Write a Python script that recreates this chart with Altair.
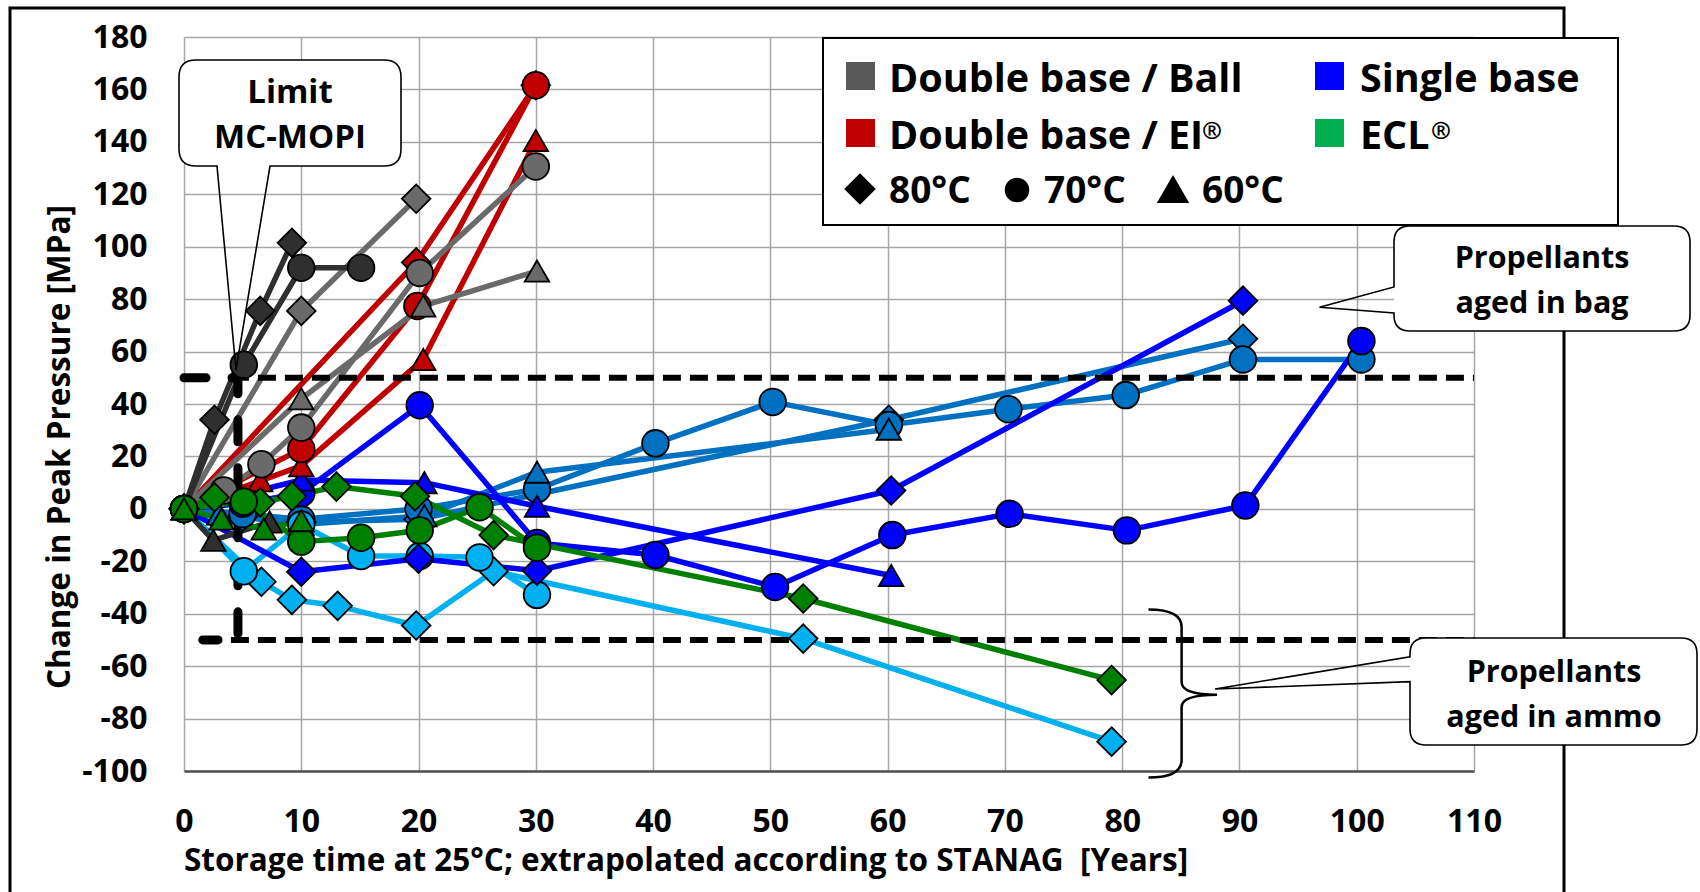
import altair as alt
import pandas as pd

# ---------------- data: storage time [years] / change in peak pressure [MPa] ----------------
# Double base / Ball (dark grey)
ball_dark_80_years = [0, 2.6, 6.5, 9.2]
ball_dark_80_mpa = [0, 34, 75.5, 101.5]
ball_dark_70_years = [0, 5.1, 10, 15.1]
ball_dark_70_mpa = [0, 55, 92, 92]
ball_dark_60_years = [0, 2.5, 7.3]
ball_dark_60_mpa = [0, -12, -5]
# Double base / Ball (grey)
ball_80_years = [0, 10, 19.8]
ball_80_mpa = [0, 75.5, 118.3]
ball_70_years = [0, 3.4, 6.6, 10, 20.1, 30]
ball_70_mpa = [0, 7, 17, 31, 90, 130.6]
ball_60_years = [0, 10, 20.4, 30.1]
ball_60_mpa = [0, 42, 77.4, 90.7]
# Double base / EI (red)
ei_80_years = [0, 19.8, 30]
ei_80_mpa = [0, 94, 161.6]
ei_70_years = [0, 10, 19.9, 30]
ei_70_mpa = [0, 22.8, 77.4, 161.6]
ei_60_years = [0, 6.5, 10, 20.4, 30]
ei_60_mpa = [0, 10.7, 16.4, 57, 140.5]
# Single base (blue)
sb_80_years = [0, 10, 20, 30.1, 60.3, 90.3]
sb_80_mpa = [0, -24, -19, -23.6, 7, 79.4]
sb_70_years = [0, 5, 10, 20.1, 30.1, 40.2, 50.4, 60.4, 70.4, 80.4, 90.5, 100.4]
sb_70_mpa = [0, 2, 6, 39.5, -13, -17.6, -29.8, -10, -1.9, -8.2, 1.3, 64]
sb_60_years = [0, 10, 20.5, 30.1, 60.3]
sb_60_mpa = [0, 11, 10, 1, -25.4]
# Single base (medium blue)
mb_80_years = [0, 5, 10, 20, 60.1, 90.3]
mb_80_mpa = [0, -3, -5, -4, 34, 64.9]
mb_70_years = [0, 5, 10, 20, 30.1, 40.2, 50.2, 60.1, 70.3, 80.3, 90.3, 100.4]
mb_70_mpa = [0, -2, -4, 0, 7.5, 25, 40.8, 32, 38, 43.4, 57, 57]
mb_60_years = [0, 3, 10, 20.5, 30.1, 60.1]
mb_60_mpa = [0, -2, -6, -2.6, 14, 30.4]
# Single base (light blue)
lb_80_years = [0, 6.6, 9.2, 13.1, 19.8, 26.4, 52.8, 79.1]
lb_80_mpa = [0, -27.8, -34.7, -37, -44.5, -23.8, -49.5, -88.8]
lb_70_years = [0, 5.1, 10, 15.1, 20.1, 25.2, 30.1]
lb_70_mpa = [0, -23.8, -6, -18, -18, -18.5, -32.8]
# ECL (green)
ecl_80_years = [0, 2.6, 6.5, 9.2, 13, 19.7, 26.4, 52.8, 79.1]
ecl_80_mpa = [0, 4.4, 2.5, 4.8, 8.5, 4.8, -10, -34.2, -65.3]
ecl_70_years = [0, 5.1, 10, 15.1, 20.1, 25.2, 30.1]
ecl_70_mpa = [0, 2.7, -12.5, -11, -8.2, 0.6, -14.8]
ecl_60_years = [0, 3.2, 6.8, 10]
ecl_60_mpa = [0, -3.9, -7.7, -4.5]

# limit lines
mopi_years = [0, 4.6, 4.6, 1.6]
mopi_mpa = [50, 50, -50, -50]
limit_levels = [50, -50]

x_ticks = list(range(0, 111, 10))
y_ticks = list(range(-100, 181, 20))
temps = ["80°C", "70°C", "60°C"]

DARK = "#2f2f2f"
GREY = "#6a6a6a"
RED = "#c00000"
BLUE = "#0000ff"
MBLUE = "#0070c0"
LBLUE = "#00b0f0"
GREEN = "#008000"

# draw order (later = on top)
series = [
    ("01", "80°C", MBLUE, mb_80_years, mb_80_mpa),
    ("02", "70°C", MBLUE, mb_70_years, mb_70_mpa),
    ("03", "60°C", MBLUE, mb_60_years, mb_60_mpa),
    ("04", "80°C", LBLUE, lb_80_years, lb_80_mpa),
    ("05", "70°C", LBLUE, lb_70_years, lb_70_mpa),
    ("06", "80°C", BLUE, sb_80_years, sb_80_mpa),
    ("07", "70°C", BLUE, sb_70_years, sb_70_mpa),
    ("08", "60°C", BLUE, sb_60_years, sb_60_mpa),
    ("09", "80°C", RED, ei_80_years, ei_80_mpa),
    ("10", "60°C", RED, ei_60_years, ei_60_mpa),
    ("11", "70°C", RED, ei_70_years, ei_70_mpa),
    ("12", "80°C", GREY, ball_80_years, ball_80_mpa),
    ("13", "70°C", GREY, ball_70_years, ball_70_mpa),
    ("14", "60°C", GREY, ball_60_years, ball_60_mpa),
    ("15", "60°C", DARK, ball_dark_60_years, ball_dark_60_mpa),
    ("16", "80°C", DARK, ball_dark_80_years, ball_dark_80_mpa),
    ("17", "70°C", DARK, ball_dark_70_years, ball_dark_70_mpa),
    ("18", "80°C", GREEN, ecl_80_years, ecl_80_mpa),
    ("19", "70°C", GREEN, ecl_70_years, ecl_70_mpa),
    ("20", "60°C", GREEN, ecl_60_years, ecl_60_mpa),
]

rows = []
for sid, temp, col, xs_, ys_ in series:
    for i, (x, y) in enumerate(zip(xs_, ys_)):
        rows.append({"sid": sid, "temp": temp, "i": i, "year": x, "mpa": y})
df = pd.DataFrame(rows)
sids = [s[0] for s in series]
cols = [s[2] for s in series]

FONT = "Open Sans"
xs = alt.Scale(domain=[0, 110], nice=False, zero=False)
ys = alt.Scale(domain=[-100, 180], nice=False, zero=False)

x_enc = alt.X("year:Q", scale=xs, axis=alt.Axis(
    values=x_ticks, title="", grid=True, gridColor="#a6a6a6", gridWidth=1.5,
    ticks=False, domain=True, domainColor="#505050", domainWidth=2.5,
    labelFont=FONT, labelFontSize=32, labelFontWeight="bold", labelColor="black",
    labelPadding=35, labelFlush=False, labelOverlap=False))
y_enc = alt.Y("mpa:Q", scale=ys, axis=alt.Axis(
    values=y_ticks, title="", grid=True, gridColor="#a6a6a6", gridWidth=1.5,
    ticks=False, domain=False,
    labelFont=FONT, labelFontSize=32, labelFontWeight="bold", labelColor="black",
    labelPadding=37, labelExpr="'' + datum.value", labelOverlap=False))

one = pd.DataFrame({"k": [0]})

# outer frame
frame = alt.Chart(one).mark_rect(fill="white", fillOpacity=0, stroke="black", strokeWidth=3).encode(
    x=alt.value(-174), x2=alt.value(1380), y=alt.value(-29), y2=alt.value(900))

lines = alt.Chart(df).mark_line(strokeWidth=5.5, strokeJoin="round", strokeCap="round").encode(
    x=x_enc, y=y_enc,
    color=alt.Color("sid:N", scale=alt.Scale(domain=sids, range=cols), legend=None),
    order=alt.Order("i:Q"))

lim_df = pd.DataFrame({"mpa": limit_levels})
limits = alt.Chart(lim_df).mark_rule(color="black", strokeWidth=6, strokeDash=[18, 9]).encode(
    y=alt.Y("mpa:Q", scale=ys), x=alt.datum(4.0), x2=alt.datum(110))

mopi_df = pd.DataFrame({"year": mopi_years, "mpa": mopi_mpa, "i": list(range(len(mopi_years)))})
mopi = alt.Chart(mopi_df).mark_line(color="black", strokeWidth=9, strokeDash=[22, 26], strokeCap="round").encode(
    x=alt.X("year:Q", scale=xs), y=alt.Y("mpa:Q", scale=ys), order=alt.Order("i:Q"))

points = alt.Chart(df).mark_point(filled=True, stroke="black", strokeWidth=1.8, opacity=1, fillOpacity=1).encode(
    x=alt.X("year:Q", scale=xs), y=alt.Y("mpa:Q", scale=ys),
    fill=alt.Fill("sid:N", scale=alt.Scale(domain=sids, range=cols), legend=None),
    shape=alt.Shape("temp:N", scale=alt.Scale(domain=temps, range=["diamond", "circle", "triangle-up"]), legend=None),
    size=alt.Size("temp:N", scale=alt.Scale(domain=temps, range=[820, 600, 760]), legend=None))


def rounded_box(x0, y0, x1, y1, r, bottom_wedge=None, left_wedge=None):
    p = f"M {x0 + r} {y0} L {x1 - r} {y0} Q {x1} {y0} {x1} {y0 + r} L {x1} {y1 - r} Q {x1} {y1} {x1 - r} {y1} "
    if bottom_wedge:
        a, b, tx, ty = bottom_wedge
        p += f"L {b} {y1} L {tx} {ty} L {a} {y1} "
    p += f"L {x0 + r} {y1} Q {x0} {y1} {x0} {y1 - r} "
    if left_wedge:
        a, b, tx, ty = left_wedge
        p += f"L {x0} {b} L {tx} {ty} L {x0} {a} "
    p += f"L {x0} {y0 + r} Q {x0} {y0} {x0 + r} {y0} Z"
    return p


def shape_layer(path, filled, width=1.6):
    if filled:
        m = alt.Chart(one).mark_point(shape=path, size=4, filled=True, fill="white", strokeOpacity=0, opacity=1)
    else:
        m = alt.Chart(one).mark_point(shape=path, size=4, filled=False, stroke="black", strokeWidth=width, opacity=1)
    return m.encode(x=alt.value(0), y=alt.value(0))


def text_layer(txt, x, y, size, align="center", baseline="alphabetic", angle=0):
    kw = dict(text=txt, font=FONT, fontWeight="bold", fontSize=size, color="black", align=align, baseline=baseline)
    if angle:
        kw["angle"] = angle
    return alt.Chart(one).mark_text(**kw).encode(x=alt.value(x), y=alt.value(y))


# callout: Limit MC-MOPI
mopi_box = rounded_box(-5, 23, 217, 129, 17)
mopi_outline = rounded_box(-5, 23, 217, 129, 17, bottom_wedge=(33, 86, 52, 333))
# callout: aged in bag
bag_box = rounded_box(1210, 189, 1506, 294, 16)
bag_outline = rounded_box(1210, 189, 1506, 294, 16, left_wedge=(250, 276, 1135.5, 270.3))
# callout: aged in ammo
ammo_box = rounded_box(1226, 601, 1513, 708, 16)
ammo_outline = rounded_box(1226, 601, 1513, 708, 16, left_wedge=(619.7, 644.7, 1031, 652))
brace = ("M 964.5 572.4 Q 997.6 572.4 997.6 590 L 997.6 645 Q 997.6 657.7 1033 657.7 "
         "Q 997.6 657.7 997.6 670 L 997.6 723 Q 997.6 740.6 964.5 740.6")

callouts = [
    shape_layer(mopi_box, True), shape_layer(mopi_outline, False),
    text_layer("Limit", 106, 66, 33), text_layer("MC-MOPI", 106, 111, 33),
    shape_layer(bag_box, True), shape_layer(bag_outline, False),
    text_layer("Propellants", 1358, 231, 30.5), text_layer("aged in bag", 1358, 276, 30.5),
    shape_layer(ammo_box, True), shape_layer(ammo_outline, False),
    text_layer("Propellants", 1370, 645, 30.5), text_layer("aged in ammo", 1370, 690, 30.5),
    shape_layer(brace, False, 2.5),
]

# legend
legend_box = alt.Chart(one).mark_rect(fill="white", stroke="black", strokeWidth=2).encode(
    x=alt.value(639), x2=alt.value(1434), y=alt.value(1), y2=alt.value(188))


def swatch(x, y, col):
    return alt.Chart(one).mark_rect(color=col).encode(
        x=alt.value(x), x2=alt.value(x + 29), y=alt.value(y), y2=alt.value(y + 28))


def sym(shape, x, y, size):
    return alt.Chart(one).mark_point(shape=shape, size=size, filled=True, color="black", opacity=1).encode(
        x=alt.value(x), y=alt.value(y))


legend = [
    legend_box,
    swatch(662, 25, "#595959"), text_layer("Double base / Ball", 705, 55, 39.5, align="left"),
    swatch(662, 82, RED), text_layer("Double base / EI", 705, 112, 39.5, align="left"),
    text_layer("®", 1018, 83, 24, align="left", baseline="top"),
    swatch(1131, 25, BLUE), text_layer("Single base", 1176, 55, 39.5, align="left"),
    swatch(1131, 82, "#00b050"), text_layer("ECL", 1176, 112, 39.5, align="left"),
    text_layer("®", 1247, 83, 24, align="left", baseline="top"),
    sym("diamond", 676, 152, 1000), text_layer("80°C", 705, 166, 37, align="left"),
    sym("circle", 833, 153, 600), text_layer("70°C", 860, 166, 37, align="left"),
    sym("triangle-up", 989, 152, 1050), text_layer("60°C", 1018, 166, 37, align="left"),
]

titles = [
    text_layer("Storage time at 25°C; extrapolated according to STANAG\u00a0 [Years]", 0, 834, 31.5, align="left"),
    text_layer("Change in Peak Pressure [MPa]", -123, 410, 31.5, baseline="middle", angle=270),
]

chart = alt.layer(frame, lines, limits, mopi, points, *legend, *callouts, *titles).properties(
    width=1290, height=734,
    autosize=alt.AutoSizeParams(type="none"),
    padding={"left": 184, "top": 37, "right": 226, "bottom": 121},
    background="white",
).configure_view(stroke="transparent")

chart.save("out.html", embed_options={"renderer": "svg", "actions": False})
